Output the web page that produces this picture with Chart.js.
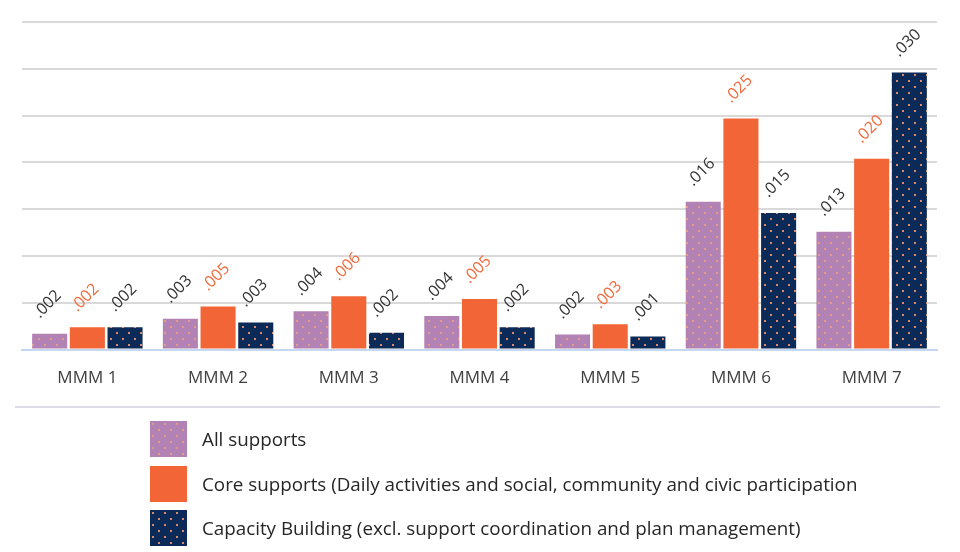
<!DOCTYPE html>
<html>
<head>
<meta charset="utf-8">
<script src="https://cdn.jsdelivr.net/npm/chart.js@4/dist/chart.umd.min.js"></script>
<style>
  body { margin: 0; background: #fff; font-family: "Open Sans", "Noto Sans", sans-serif; }
  #wrap { position: relative; width: 960px; height: 552px; overflow: hidden; }
  #chartBox { position: absolute; left: 0; top: 0; width: 960px; height: 398px; }
  #sep { position: absolute; left: 15px; top: 406px; width: 925px; height: 2px; background: #dcdbe8; }
  #legend { position: absolute; left: 150px; top: 421px; }
  .row { display: flex; align-items: center; height: 36px; margin-bottom: 8.5px; }
  .row canvas { width: 37px; height: 36px; margin-right: 15px; }
  .row span { font-size: 18.8px; color: #262626; white-space: nowrap; }
</style>
</head>
<body>
<div id="wrap">
  <div id="chartBox"><canvas id="chart"></canvas></div>
  <div id="sep"></div>
  <div id="legend"></div>
</div>
<script>
const categories = ["MMM 1", "MMM 2", "MMM 3", "MMM 4", "MMM 5", "MMM 6", "MMM 7"];
const seriesNames = [
  "All supports",
  "Core supports (Daily activities and social, community and civic participation",
  "Capacity Building (excl. support coordination and plan management)"
];
const allSupports = [0.0017, 0.0033, 0.0041, 0.0036, 0.0016, 0.0158, 0.0126];
const coreSupports = [0.0024, 0.0046, 0.0057, 0.0054, 0.0027, 0.0247, 0.0204];
const capacityBuilding = [0.0024, 0.0029, 0.0018, 0.0024, 0.0014, 0.0146, 0.0296];

// dotted fill like the original
function dotPattern(bg, dot) {
  const c = document.createElement("canvas");
  c.width = 12; c.height = 12;
  const g = c.getContext("2d");
  g.fillStyle = bg;
  g.fillRect(0, 0, 12, 12);
  g.fillStyle = dot;
  g.fillRect(2, 2, 2, 2);
  g.fillRect(8, 8, 2, 2);
  return g.createPattern(c, "repeat");
}

const purple = dotPattern("#b382b4", "#e39a86");
const navy = dotPattern("#0c2a58", "#d98a6c");
const orange = "#f26536";
const fills = [purple, orange, navy];
const labelColors = ["#333333", "#f26a3c", "#333333"];

const valueLabels = {
  id: "valueLabels",
  afterDatasetsDraw(chart) {
    const ctx = chart.ctx;
    ctx.save();
    ctx.font = "16px 'Open Sans', 'Noto Sans', sans-serif";
    ctx.textAlign = "left";
    ctx.textBaseline = "alphabetic";
    chart.data.datasets.forEach((ds, i) => {
      chart.getDatasetMeta(i).data.forEach((bar, j) => {
        const txt = ds.data[j].toFixed(3).replace(/^0/, "");
        ctx.save();
        ctx.translate(bar.x - 10, bar.y - 15);
        ctx.rotate(-Math.PI / 4);
        ctx.fillStyle = labelColors[i];
        ctx.fillText(txt, 0, 0);
        ctx.restore();
      });
    });
    ctx.restore();
  }
};

new Chart(document.getElementById("chart"), {
  type: "bar",
  data: {
    labels: categories,
    datasets: [
      { label: seriesNames[0], data: allSupports, backgroundColor: purple },
      { label: seriesNames[1], data: coreSupports, backgroundColor: orange },
      { label: seriesNames[2], data: capacityBuilding, backgroundColor: navy }
    ]
  },
  options: {
    responsive: true,
    maintainAspectRatio: false,
    animation: false,
    layout: { padding: { left: 22, right: 23, top: 22, bottom: 0 } },
    datasets: { bar: { categoryPercentage: 0.865, barPercentage: 0.93 } },
    plugins: {
      legend: { display: false },
      tooltip: { enabled: false }
    },
    scales: {
      x: {
        grid: { display: false },
        border: { color: "#c6d8f0", width: 2 },
        ticks: {
          color: "#404040",
          padding: 10,
          font: { size: 17, family: "'Open Sans', 'Noto Sans', sans-serif" }
        }
      },
      y: {
        min: 0,
        max: 0.035,
        ticks: { display: false, stepSize: 0.005 },
        grid: { color: "#d9d9d9", lineWidth: 2, drawTicks: false },
        border: { display: false }
      }
    }
  },
  plugins: [valueLabels]
});

// legend built as html rows
const legend = document.getElementById("legend");
seriesNames.forEach((name, i) => {
  const row = document.createElement("div");
  row.className = "row";
  const sw = document.createElement("canvas");
  sw.width = 37; sw.height = 36;
  const g = sw.getContext("2d");
  g.fillStyle = fills[i];
  g.fillRect(0, 0, 37, 36);
  const span = document.createElement("span");
  span.textContent = name;
  row.appendChild(sw);
  row.appendChild(span);
  legend.appendChild(row);
});
</script>
</body>
</html>
